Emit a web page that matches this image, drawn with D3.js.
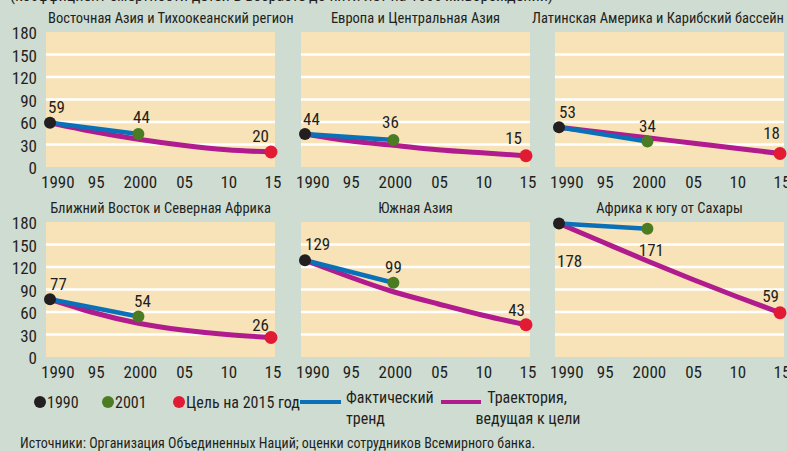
<!DOCTYPE html>
<html>
<head>
<meta charset="utf-8">
<script src="https://cdn.jsdelivr.net/npm/d3@7"></script>
<style>
body{margin:0;background:#cfdcd2;}
svg{display:block;}
text{font-family:"Liberation Sans Narrow","Roboto Condensed","DejaVu Sans Condensed",sans-serif;fill:#231f20;}
</style>
</head>
<body>
<svg id="chart" width="787" height="451"></svg>
<script>
// regions, one panel each (reading order)
let regions=["Восточная Азия и Тихоокеанский регион","Европа и Центральная Азия","Латинская Америка и Карибский бассейн",
"Ближний Восток и Северная Африка","Южная Азия","Африка к югу от Сахары"];

// under-five mortality per 1000 : 1990, 2001, goal 2015
let value1990=[59,44,53,77,129,178];
let value2001=[44,36,34,54,99,171];
let goal2015=[20,15,18,26,43,59];

// the 2001 dot sits on the 2000 tick in the original
let pointYears=[1990,2000,2015];

// trajectory to the goal
let trajYears=[1990,1995,2000,2005,2010,2015];
let trajectory=[
[59,47,37,29,23,20],
[44,35,29,23,19,15],
[53,46,39,32,25,18],
[77,59,45,36,30,26],
[129,107,87,71,56,43],
[178,153,128,104,81,59]];

let xTicks=[1990,1995,2000,2005,2010,2015];
let xTickLabels=["1990","95","2000","05","10","15"];
let yTicks=[0,30,60,90,120,150,180];

let legendDots=["1990","2001","Цель на 2015 год"];
let source="Источники: Организация Объединенных Наций; оценки сотрудников Всемирного банка.";
let topNote="(коэффициент смертности детей в возрасте до пяти лет на 1000 живорождений)";

/*########## layout ##########*/
let colLeft=[46,301,555], rowTop=[32,222];
let pw=229, ph=135;
let colors={black:"#231f20",green:"#4b7c23",red:"#e11b33",blue:"#0a70b8",magenta:"#b01b8e",panel:"#f8e2b8"};
// label placement per panel for [1990, 2001, 2015]: [dx,dy,anchor]
let labelPos=[
[[-2,-10,"start"],[3,-11,"middle"],[-2,-10,"end"]],
[[-2,-9,"start"],[-3,-12,"middle"],[-4,-12,"end"]],
[[0,-9,"start"],[0,-10,"middle"],[0,-15,"end"]],
[[0,-9,"start"],[4,-10,"middle"],[-2,-7,"end"]],
[[0,-10,"start"],[0,-10,"middle"],[-1,-9,"end"]],
[[-2,43,"start"],[4,27,"middle"],[-1,-11,"end"]]];

let svg=d3.select("#chart");

// first line of the note is cut by the top edge in the original
svg.append("text").attr("x",10).attr("y",1).attr("font-size",15)
  .attr("textLength",543).attr("lengthAdjust","spacingAndGlyphs").text(topNote);

regions.forEach(function(name,i){
  let left=colLeft[i%3], top=rowTop[Math.floor(i/3)];
  let x=d3.scaleLinear().domain([1990,2015]).range([left+4,left+pw-4]);
  let y=d3.scaleLinear().domain([0,180]).range([top+ph,top]);
  let g=svg.append("g");

  g.append("rect").attr("x",left).attr("y",top).attr("width",pw).attr("height",ph).attr("fill",colors.panel);

  // white gridlines
  g.selectAll("line.grid").data(yTicks.filter(v=>v>0&&v<180)).enter().append("line")
    .attr("x1",left).attr("x2",left+pw).attr("y1",d=>y(d)).attr("y2",d=>y(d))
    .attr("stroke","#fff").attr("stroke-width",2.5);

  // y labels only on the left column
  if(i%3===0){
    g.selectAll("text.ytick").data(yTicks).enter().append("text")
      .attr("x",left-9).attr("y",d=>y(d)+7).attr("text-anchor","end").attr("font-size",17).text(d=>d);
  }

  // x labels
  g.selectAll("text.xtick").data(xTicks).enter().append("text")
    .attr("x",(d,k)=>k===0?x(d)-9:x(d)+2).attr("y",top+ph+21)
    .attr("text-anchor",(d,k)=>k===0?"start":"middle").attr("font-size",17)
    .text((d,k)=>xTickLabels[k]);

  // title, centered but kept inside the picture
  let title=g.append("text").attr("y",top-9).attr("font-size",14.5).attr("text-anchor","middle").text(name);
  let tw=title.node().getComputedTextLength();
  let cx=left+pw/2;
  cx=Math.max(cx,left+2+tw/2);
  cx=Math.min(cx,784-tw/2);
  title.attr("x",cx);

  let line=d3.line().x(d=>x(d[0])).y(d=>y(d[1]));

  g.append("path").datum(trajYears.map((yr,k)=>[yr,trajectory[i][k]]))
    .attr("d",line.curve(d3.curveNatural)).attr("fill","none")
    .attr("stroke",colors.magenta).attr("stroke-width",5).attr("stroke-linecap","round");

  g.append("path").datum([[pointYears[0],value1990[i]],[pointYears[1],value2001[i]]])
    .attr("d",d3.line().x(d=>x(d[0])).y(d=>y(d[1]))).attr("fill","none")
    .attr("stroke",colors.blue).attr("stroke-width",4.5);

  let pts=[value1990[i],value2001[i],goal2015[i]];
  let ptColors=[colors.black,colors.green,colors.red];
  g.selectAll("circle").data(pts).enter().append("circle")
    .attr("cx",(d,k)=>x(pointYears[k])).attr("cy",d=>y(d))
    .attr("r",(d,k)=>k===2?6.5:6).attr("fill",(d,k)=>ptColors[k]);

  g.selectAll("text.val").data(pts).enter().append("text")
    .attr("x",(d,k)=>x(pointYears[k])+labelPos[i][k][0])
    .attr("y",(d,k)=>y(d)+labelPos[i][k][1])
    .attr("text-anchor",(d,k)=>labelPos[i][k][2]).attr("font-size",17).text(d=>d);
});

/*########## legend ##########*/
let lg=svg.append("g");
let dotX=[40,108,179];
let dotColors=[colors.black,colors.green,colors.red];
legendDots.forEach(function(lab,k){
  lg.append("circle").attr("cx",dotX[k]).attr("cy",402).attr("r",6).attr("fill",dotColors[k]);
  lg.append("text").attr("x",dotX[k]+7).attr("y",408).attr("font-size",16).text(lab);
});
lg.append("line").attr("x1",300).attr("x2",341).attr("y1",402).attr("y2",402).attr("stroke",colors.blue).attr("stroke-width",4);
lg.append("text").attr("x",346).attr("y",403).attr("font-size",16).text("Фактический");
lg.append("text").attr("x",346).attr("y",424).attr("font-size",16).text("тренд");
lg.append("line").attr("x1",441).attr("x2",481).attr("y1",402).attr("y2",402).attr("stroke",colors.magenta).attr("stroke-width",4);
lg.append("text").attr("x",527).attr("y",403).attr("text-anchor","middle").attr("font-size",16).text("Траектория,");
lg.append("text").attr("x",528).attr("y",424).attr("text-anchor","middle").attr("font-size",16).text("ведущая к цели");

svg.append("text").attr("x",20).attr("y",448).attr("font-size",14).text(source);
</script>
</body>
</html>
